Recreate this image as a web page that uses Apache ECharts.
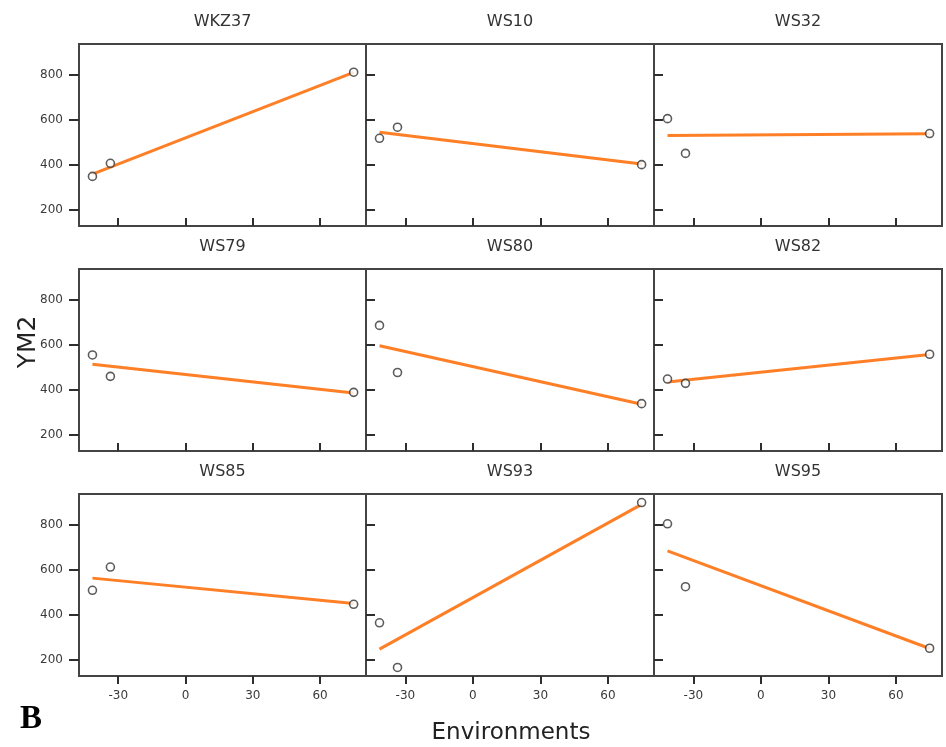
<!DOCTYPE html>
<html><head><meta charset="utf-8">
<script src="https://cdn.jsdelivr.net/npm/echarts@6/dist/echarts.min.js"></script>
<style>html,body{margin:0;padding:0;background:#fff}#c{width:946px;height:747px}</style>
</head><body><div id="c"></div>
<script>
// ---- data ----
const genotypes = ['WKZ37','WS10','WS32','WS79','WS80','WS82','WS85','WS93','WS95'];
const envIndex = [-41.5, -33.5, 75];
const WKZ37 = [348, 406, 810];
const WS10  = [517, 566, 400];
const WS32  = [604, 450, 538];
const WS79  = [554, 459, 388];
const WS80  = [685, 476, 338];
const WS82  = [447, 428, 557];
const WS85  = [508, 611, 446];
const WS93  = [364, 166, 897];
const WS95  = [803, 524, 251];
const panelValues = [WKZ37, WS10, WS32, WS79, WS80, WS82, WS85, WS93, WS95];
const fitStart = [358, 544, 529, 513, 595, 434, 562, 247, 683];
const fitEnd   = [809, 403, 537, 385, 335, 556, 449, 889, 250];
const xTicks = [-30, 0, 30, 60];
const yTicks = [200, 400, 600, 800];

// ---- layout ----
const colLeft = [79, 366, 654], colWidth = [287, 288, 288];
const rowTop = [44, 269, 494], rowH = 182;
const xMin = -47.5, xMax = 80.5, yMin = 128, yMax = 935;
const tickColor = '#2e2e2e', labelColor = '#3a3a3a';

const grids = [], xAxes = [], yAxes = [], series = [], graphics = [];
const xLo = Math.min(...envIndex), xHi = Math.max(...envIndex);

genotypes.forEach((g, i) => {
  const r = Math.floor(i / 3), c = i % 3;
  grids.push({left: colLeft[c], top: rowTop[r], width: colWidth[c], height: rowH,
    show: true, borderColor: '#444', borderWidth: 2, backgroundColor: '#fff', containLabel: false});
  xAxes.push({gridIndex: i, type: 'value', min: xMin, max: xMax, position: 'bottom',
    axisLine: {show: false, onZero: false}, splitLine: {show: false},
    axisTick: {show: true, inside: r < 2, length: 8, customValues: xTicks,
      lineStyle: {color: tickColor, width: 2}},
    axisLabel: {show: r === 2, customValues: xTicks, margin: 14, color: labelColor,
      fontSize: 12, fontFamily: 'DejaVu Sans'}});
  yAxes.push({gridIndex: i, type: 'value', min: yMin, max: yMax, position: 'left',
    axisLine: {show: false, onZero: false}, splitLine: {show: false},
    axisTick: {show: true, inside: c > 0, length: c > 0 ? 9 : 10, customValues: yTicks,
      lineStyle: {color: tickColor, width: 2}},
    axisLabel: {show: c === 0, customValues: yTicks, margin: 16, color: labelColor,
      fontSize: 12, fontFamily: 'DejaVu Sans'}});
  series.push({type: 'line', xAxisIndex: i, yAxisIndex: i, showSymbol: false, silent: true,
    data: [[xLo, fitStart[i]], [xHi, fitEnd[i]]],
    lineStyle: {color: '#ff7f27', width: 3}, z: 2});
  series.push({type: 'scatter', xAxisIndex: i, yAxisIndex: i, symbol: 'circle', symbolSize: 8,
    data: envIndex.map((x, j) => [x, panelValues[i][j]]),
    itemStyle: {color: '#fff', borderColor: '#333', borderWidth: 1.6}, z: 3});
  graphics.push({type: 'text', x: colLeft[c] + colWidth[c] / 2, y: rowTop[r] - 22,
    style: {text: g, fill: '#333', font: '16px "DejaVu Sans"', textAlign: 'center', textVerticalAlign: 'middle'}});
});

graphics.push({type: 'text', x: 28, y: 342, rotation: Math.PI / 2,
  style: {text: 'YM2', fill: '#222', font: '25px "DejaVu Sans"', textAlign: 'center', textVerticalAlign: 'middle'}});
graphics.push({type: 'text', x: 511, y: 733,
  style: {text: 'Environments', fill: '#222', font: '23px "DejaVu Sans"', textAlign: 'center', textVerticalAlign: 'middle'}});
graphics.push({type: 'text', x: 20, y: 719,
  style: {text: 'B', fill: '#000', font: 'bold 33px "Liberation Serif"', textAlign: 'left', textVerticalAlign: 'middle'}});

const chart = echarts.init(document.getElementById('c'), null, {renderer: 'canvas'});
chart.setOption({animation: false, backgroundColor: '#fff',
  grid: grids, xAxis: xAxes, yAxis: yAxes, series: series, graphic: graphics});
</script></body></html>
